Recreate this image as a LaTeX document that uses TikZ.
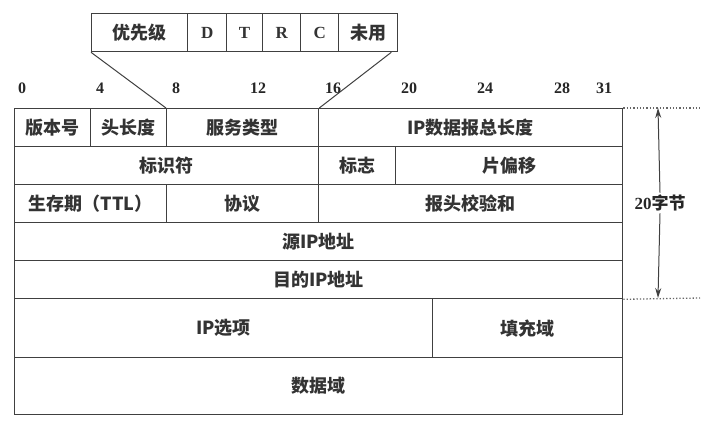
\documentclass[tikz,border=0pt]{standalone}
\usepackage{fontspec}
\setmainfont{Liberation Serif}
\newfontfamily\cjk{Noto Sans CJK SC}
\usetikzlibrary{arrows.meta}
\begin{document}
\begin{tikzpicture}[x=1pt,y=-1pt,
  line/.style={draw=black!75,line width=1.3pt},
  cell/.style={line,rectangle,inner sep=0pt,anchor=north west,font=\cjk\bfseries\fontsize{18}{20}\selectfont,text=black!80},
  num/.style={font=\bfseries\fontsize{16}{18}\selectfont,text=black!85,inner sep=0pt},
  dots/.style={draw=black!60,line width=1.3pt,dotted}]
\useasboundingbox (0,0) rectangle (715,422);
% TOS box
\node[cell,minimum width=96pt,minimum height=38pt] (prec) at (91,13) {优先级};
\node[cell,minimum width=39pt,minimum height=38pt,font=\bfseries\fontsize{17}{19}\selectfont] (tD) at (187,13) {D};
\node[cell,minimum width=36pt,minimum height=38pt,font=\bfseries\fontsize{17}{19}\selectfont] (tT) at (226,13) {T};
\node[cell,minimum width=38pt,minimum height=38pt,font=\bfseries\fontsize{17}{19}\selectfont] (tR) at (262,13) {R};
\node[cell,minimum width=38pt,minimum height=38pt,font=\bfseries\fontsize{17}{19}\selectfont] (tC) at (300,13) {C};
\node[cell,minimum width=59pt,minimum height=38pt] (unused) at (338,13) {未用};
% bit numbers
\node[num] (b0) at (22,88) {0};
\node[num] (b4) at (100,88) {4};
\node[num] (b8) at (176,88) {8};
\node[num] (b12) at (258,88) {12};
\node[num] (b16) at (333,88) {16};
\node[num] (b20) at (409,88) {20};
\node[num] (b24) at (485,88) {24};
\node[num] (b28) at (562,88) {28};
\node[num] (b31) at (604,88) {31};
% row 1
\node[cell,minimum width=76pt,minimum height=38pt] (ver) at (14,108) {版本号};
\node[cell,minimum width=76pt,minimum height=38pt] (hlen) at (90,108) {头长度};
\node[cell,minimum width=152pt,minimum height=38pt] (svc) at (166,108) {服务类型};
\node[cell,minimum width=304pt,minimum height=38pt] (tlen) at (318,108) {IP数据报总长度};
% row 2
\node[cell,minimum width=304pt,minimum height=38pt] (ident) at (14,146) {标识符};
\node[cell,minimum width=77pt,minimum height=38pt] (flag) at (318,146) {标志};
\node[cell,minimum width=227pt,minimum height=38pt] (frag) at (395,146) {片偏移};
% row 3
\node[cell,minimum width=152pt,minimum height=38pt] (ttl) at (14,184) {生存期（TTL）};
\node[cell,minimum width=152pt,minimum height=38pt] (proto) at (166,184) {协议};
\node[cell,minimum width=304pt,minimum height=38pt] (csum) at (318,184) {报头校验和};
% rows 4-7
\node[cell,minimum width=608pt,minimum height=38pt] (src) at (14,222) {源IP地址};
\node[cell,minimum width=608pt,minimum height=38pt] (dst) at (14,260) {目的IP地址};
\node[cell,minimum width=418pt,minimum height=59pt] (opt) at (14,298) {IP选项};
\node[cell,minimum width=190pt,minimum height=59pt] (pad) at (432,298) {填充域};
\node[cell,minimum width=608pt,minimum height=57pt] (data) at (14,357) {数据域};
% connectors from TOS box to service type field
\draw[line,line width=1pt] (prec.south west) -- (svc.north west);
\draw[line,line width=1pt] ([xshift=-7pt]unused.south east) -- (svc.north east);
% 20 bytes marker
\coordinate (atop) at (658,108);
\coordinate (abot) at (658,298);
\draw[dots] (tlen.north east) -- (700,108);
\draw[dots] (dst.south east) -- (700,298);
\node[inner sep=2pt,font=\bfseries\fontsize{17}{19}\selectfont,text=black!85] (bytes) at (660,203) {20{\cjk 字节}};
\draw[line,line width=1pt,-{Stealth[length=10pt,width=6pt]}] (bytes.north) -- (atop);
\draw[line,line width=1pt,-{Stealth[length=10pt,width=6pt]}] (bytes.south) -- (abot);
\end{tikzpicture}
\end{document}
